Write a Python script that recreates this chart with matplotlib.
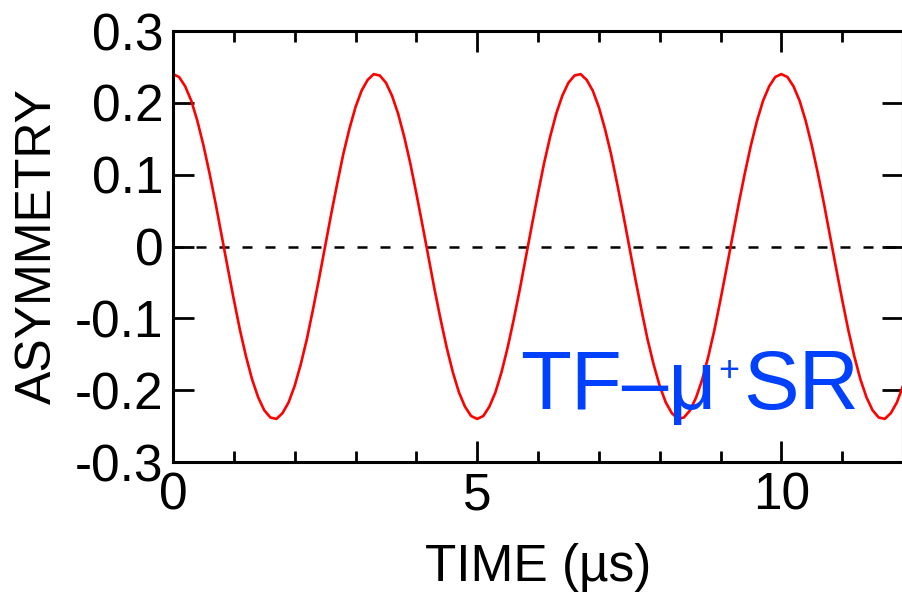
import matplotlib
matplotlib.use('Agg')
from matplotlib import pyplot as plt
from matplotlib.ticker import MultipleLocator

plt.rcParams['font.family'] = ['Liberation Sans', 'DejaVu Sans']

# time in microseconds (0.1 us steps) and asymmetry
time_us = [0.0, 0.1, 0.2, 0.3, 0.4, 0.5, 0.6, 0.7, 0.8, 0.9,
           1.0, 1.1, 1.2, 1.3, 1.4, 1.5, 1.6, 1.7, 1.8, 1.9,
           2.0, 2.1, 2.2, 2.3, 2.4, 2.5, 2.6, 2.7, 2.8, 2.9,
           3.0, 3.1, 3.2, 3.3, 3.4, 3.5, 3.6, 3.7, 3.8, 3.9,
           4.0, 4.1, 4.2, 4.3, 4.4, 4.5, 4.6, 4.7, 4.8, 4.9,
           5.0, 5.1, 5.2, 5.3, 5.4, 5.5, 5.6, 5.7, 5.8, 5.9,
           6.0, 6.1, 6.2, 6.3, 6.4, 6.5, 6.6, 6.7, 6.8, 6.9,
           7.0, 7.1, 7.2, 7.3, 7.4, 7.5, 7.6, 7.7, 7.8, 7.9,
           8.0, 8.1, 8.2, 8.3, 8.4, 8.5, 8.6, 8.7, 8.8, 8.9,
           9.0, 9.1, 9.2, 9.3, 9.4, 9.5, 9.6, 9.7, 9.8, 9.9,
           10.0, 10.1, 10.2, 10.3, 10.4, 10.5, 10.6, 10.7, 10.8, 10.9,
           11.0, 11.1, 11.2, 11.3, 11.4, 11.5, 11.6, 11.7, 11.8, 11.9, 12.0]
asym = [0.240, 0.236, 0.223, 0.203, 0.175, 0.141, 0.102, 0.060, 0.015, -0.030,
        -0.074, -0.116, -0.153, -0.185, -0.210, -0.228, -0.238, -0.240, -0.232, -0.217,
        -0.194, -0.164, -0.129, -0.088, -0.045, 0.000, 0.045, 0.088, 0.129, 0.164,
        0.194, 0.217, 0.232, 0.240, 0.238, 0.228, 0.210, 0.185, 0.153, 0.116,
        0.074, 0.030, -0.015, -0.060, -0.102, -0.141, -0.175, -0.203, -0.223, -0.236,
        -0.240, -0.236, -0.223, -0.203, -0.175, -0.141, -0.102, -0.060, -0.015, 0.030,
        0.074, 0.116, 0.153, 0.185, 0.210, 0.228, 0.238, 0.240, 0.232, 0.217,
        0.194, 0.164, 0.129, 0.088, 0.045, 0.000, -0.045, -0.088, -0.129, -0.164,
        -0.194, -0.217, -0.232, -0.240, -0.238, -0.228, -0.210, -0.185, -0.153, -0.116,
        -0.074, -0.030, 0.015, 0.060, 0.102, 0.141, 0.175, 0.203, 0.223, 0.236,
        0.240, 0.236, 0.223, 0.203, 0.175, 0.141, 0.102, 0.060, 0.015, -0.030,
        -0.074, -0.116, -0.153, -0.185, -0.210, -0.228, -0.238, -0.240, -0.232, -0.217, -0.194]

yticks = [-0.3, -0.2, -0.1, 0, 0.1, 0.2, 0.3]
ytick_labels = ['-0.3', '-0.2', '-0.1', '0', '0.1', '0.2', '0.3']

fig = plt.figure(figsize=(9.03, 6.0), dpi=100)
ax = fig.add_axes([0.1916, 0.23, 0.8084, 0.7183])

ax.axhline(0, color='black', lw=1.8, linestyle=(0, (4.0, 5.2)))
ax.plot(time_us, asym, color='#ff0000', lw=1.9)

ax.set_xlim(0, 12)
ax.set_ylim(-0.3, 0.3)
ax.xaxis.set_major_locator(MultipleLocator(5))
ax.xaxis.set_minor_locator(MultipleLocator(1))
ax.set_yticks(yticks)
ax.set_yticklabels(ytick_labels)

for s in ax.spines.values():
    s.set_linewidth(2.2)
ax.tick_params(which='both', direction='in', top=True, right=True, width=2.0,
               labelsize=37, pad=7)
ax.tick_params(which='major', length=15)
ax.tick_params(which='minor', length=8)

ax.set_xlabel('TIME (µs)', fontsize=37, labelpad=16)
ax.set_ylabel('ASYMMETRY', fontsize=36, labelpad=10)

blue = '#0040ff'
t1 = ax.text(0.476, 0.123, 'TF–μ', transform=ax.transAxes, color=blue,
             fontsize=60, va='baseline')
t2 = ax.annotate('+', xy=(1, 1), xycoords=t1, xytext=(1, -4),
                 textcoords='offset points', color=blue, fontsize=26,
                 va='top', ha='left')
t3 = ax.annotate('SR', xy=(1, 0), xycoords=t1, xytext=(19, 0),
                 textcoords='offset points', color=blue, fontsize=60,
                 va='bottom', ha='left')

fig.savefig('out.png', dpi=100)
